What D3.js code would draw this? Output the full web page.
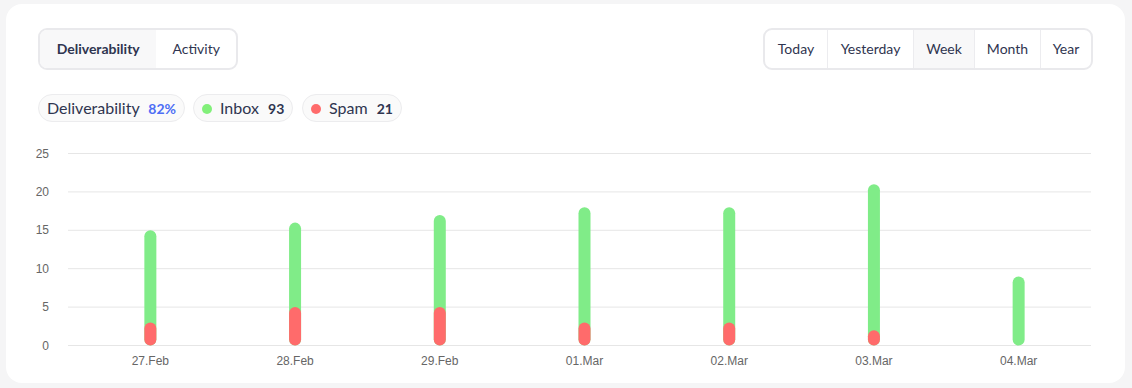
<!DOCTYPE html>
<html>
<head>
<meta charset="utf-8">
<script src="https://cdn.jsdelivr.net/npm/d3@7"></script>
<style>
  html, body { margin: 0; padding: 0; background: #f5f5f6; }
  body { width: 1132px; height: 388px; overflow: hidden; font-family: Lato, "Open Sans", sans-serif; color: #2f3550; }
  #card { position: absolute; left: 6px; top: 4px; width: 1119px; height: 379px; background: #fff; border-radius: 16px; }
  .seg { position: absolute; top: 28px; height: 38px; display: flex; border: 2px solid #e9e9ec; border-radius: 9px; overflow: hidden; background: #fff; }
  .seg div { height: 38px; line-height: 38px; font-size: 14px; text-align: center; box-sizing: border-box; }
  .seg.right div + div { border-left: 1px solid #ececef; }
  .seg .on { background: #f8f8f9; }
  .pill { position: absolute; top: 94px; height: 28px; line-height: 26px; box-sizing: border-box; border: 1px solid #ececee; border-radius: 14px; background: #fafafa; font-size: 16px; padding: 0 8px; white-space: nowrap; }
  .pill b { font-size: 14px; font-weight: 700; margin-left: 5px; }
  .dot { display: inline-block; width: 10px; height: 10px; border-radius: 50%; margin-right: 8px; vertical-align: 0px; }
  svg { position: absolute; left: 0; top: 0; }
</style>
</head>
<body>
<div id="card"></div>
<div id="chart"></div>
<script>
(function() {
  // ---- data ----
  var days = ["27.Feb", "28.Feb", "29.Feb", "01.Mar", "02.Mar", "03.Mar", "04.Mar"];
  var spam = [3, 5, 5, 3, 3, 2, 0];
  var inbox = [12, 11, 12, 15, 15, 19, 9];
  var yTicks = [0, 5, 10, 15, 20, 25];
  var tabs = ["Deliverability", "Activity"];
  var periods = ["Today", "Yesterday", "Week", "Month", "Year"];

  var width = 1132, height = 388;
  var body = d3.select("body");

  // ---- tabs ----
  var tabW = [117, 80];
  var left = body.append("div").attr("class", "seg").style("left", "38px").style("width", "196px");
  left.selectAll("div").data(tabs).enter().append("div")
    .attr("class", function(d, i) { return i === 0 ? "on" : null; })
    .style("width", function(d, i) { return tabW[i] + "px"; })
    .style("font-weight", function(d, i) { return i === 0 ? 700 : 400; })
    .text(function(d) { return d; });

  var perW = [62, 86, 61, 66, 51];
  var right = body.append("div").attr("class", "seg right").style("left", "763px").style("width", "326px");
  right.selectAll("div").data(periods).enter().append("div")
    .attr("class", function(d) { return d === "Week" ? "on" : null; })
    .style("width", function(d, i) { return perW[i] + "px"; })
    .text(function(d) { return d; });

  // ---- summary pills ----
  var totalInbox = d3.sum(inbox), totalSpam = d3.sum(spam);
  var rate = Math.round(totalInbox / (totalInbox + totalSpam) * 100);

  body.append("div").attr("class", "pill").style("left", "38px")
    .html('Deliverability <b style="color:#4d6ef5">' + rate + '%</b>');
  body.append("div").attr("class", "pill").style("left", "193px")
    .html('<span class="dot" style="background:#82f07a"></span>Inbox <b>' + totalInbox + '</b>');
  body.append("div").attr("class", "pill").style("left", "302px")
    .html('<span class="dot" style="background:#ff6b6b"></span>Spam <b>' + totalSpam + '</b>');

  // ---- chart ----
  var svg = d3.select("#chart").append("svg").attr("width", width).attr("height", height);

  var y = d3.scaleLinear().domain([0, 25]).range([345.5, 153.5]);
  var x = d3.scaleBand().domain(days).range([78, 1091]);

  var grid = svg.append("g");
  grid.selectAll("line").data(yTicks).enter().append("line")
    .attr("x1", 68).attr("x2", 1091)
    .attr("y1", function(d) { return y(d); }).attr("y2", function(d) { return y(d); })
    .attr("stroke", "#e6e6e6").attr("stroke-width", 1);

  svg.append("g").selectAll("text").data(yTicks).enter().append("text")
    .attr("x", 49).attr("y", function(d) { return y(d) + 4; })
    .attr("text-anchor", "end")
    .style("font", "12px 'Liberation Sans', Arial, sans-serif").style("fill", "#666")
    .text(function(d) { return d; });

  svg.append("g").selectAll("text").data(days).enter().append("text")
    .attr("x", function(d) { return x(d) + x.bandwidth() / 2; }).attr("y", 365)
    .attr("text-anchor", "middle")
    .style("font", "12px 'Liberation Sans', Arial, sans-serif").style("fill", "#666")
    .text(function(d) { return d; });

  var barW = 12;
  var rows = days.map(function(d, i) { return { day: d, spam: spam[i], inbox: inbox[i] }; });

  // green = inbox stacked on spam, drawn as one rounded bar behind
  svg.append("g").selectAll("rect").data(rows).enter().append("rect")
    .attr("x", function(d) { return x(d.day) + x.bandwidth() / 2 - barW / 2; })
    .attr("width", barW)
    .attr("y", function(d) { return y(d.spam + d.inbox); })
    .attr("height", function(d) { return y(0) - y(d.spam + d.inbox); })
    .attr("rx", 6)
    .attr("fill", "#80ec88");

  svg.append("g").selectAll("rect").data(rows.filter(function(d) { return d.spam > 0; })).enter().append("rect")
    .attr("x", function(d) { return x(d.day) + x.bandwidth() / 2 - barW / 2; })
    .attr("width", barW)
    .attr("y", function(d) { return y(d.spam); })
    .attr("height", function(d) { return y(0) - y(d.spam); })
    .attr("rx", 6)
    .attr("fill", "#ff6b6b");
})();
</script>
</body>
</html>
